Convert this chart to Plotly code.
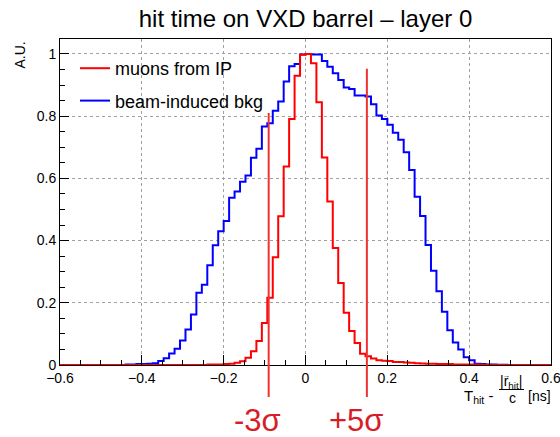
import numpy as np
import plotly.graph_objects as go

# ---------------- data ----------------
x_min, x_max, n_bins = -0.6, 0.6, 90

# beam-induced background (blue), normalised to max = 1, bins from -0.6 to 0.6
bkg_counts = [0.0] * 12 + [
    0.002, 0.002, 0.003, 0.003, 0.004, 0.006, 0.013, 0.022, 0.037, 0.052,
    0.079, 0.114, 0.162, 0.232, 0.258, 0.321, 0.385, 0.430, 0.463, 0.538,
    0.558, 0.589, 0.609, 0.666, 0.695, 0.767, 0.777, 0.817, 0.847, 0.911,
    0.960, 0.968, 0.998, 1.000, 0.998, 0.998, 0.977, 0.959, 0.938, 0.916,
    0.892, 0.887, 0.866, 0.866, 0.863, 0.838, 0.802, 0.791, 0.772, 0.747,
    0.724, 0.684, 0.627, 0.541, 0.479, 0.386, 0.303, 0.237, 0.171, 0.112,
    0.072, 0.050, 0.025, 0.015, 0.004, 0.003, 0.002, 0.002, 0.001, 0.001,
] + [0.0] * 8

# muons from IP (red)
muon_counts = [0.0] * 27 + [
    0.002, 0.002, 0.002, 0.003, 0.004, 0.007, 0.012, 0.023, 0.044, 0.077,
    0.135, 0.216, 0.346, 0.478, 0.638, 0.791, 0.930, 0.997, 1.000, 0.970,
    0.845, 0.667, 0.526, 0.376, 0.264, 0.168, 0.109, 0.071, 0.036, 0.028,
    0.021, 0.015, 0.014, 0.013, 0.010, 0.010, 0.008, 0.007, 0.006, 0.005,
    0.004, 0.004, 0.003, 0.003, 0.003, 0.002, 0.002, 0.002, 0.002, 0.002,
    0.001, 0.001,
] + [0.0] * 11

series_names = ["muons from IP", "beam-induced bkg"]
sigma_positions = [-0.09, 0.15]
sigma_labels = ["-3σ", "+5σ"]
x_tickvals = [-0.6, -0.4, -0.2, 0, 0.2, 0.4, 0.6]
y_tickvals = [0, 0.2, 0.4, 0.6, 0.8, 1]
y_ticklabels = ["0", "0.2", "0.4", "0.6", "0.8", "1"]

# ---------------- figure ----------------
W, H = 560, 437
ML, MR, MT, MB = 60, 9, 39, 72
PW, PH = W - ML - MR, H - MT - MB
Y_TOP = 1.048
BOTTOM_PX = H - MB           # pixel row of the x axis


def px_x(px):
    return (px - ML) / PW


def px_y(py):
    return (BOTTOM_PX - py) / PH


edges = np.linspace(x_min, x_max, n_bins + 1)


def steps(counts):
    c = list(counts)
    return list(edges), c + [c[-1]]


FONT = "Liberation Sans, Arial, Helvetica, sans-serif"
RED = "rgb(255,0,0)"
BLUE = "rgb(0,0,255)"

fig = go.Figure()
bx, by = steps(bkg_counts)
mx, my = steps(muon_counts)
fig.add_trace(go.Scatter(x=bx, y=by, mode="lines", line=dict(shape="hv", color=BLUE, width=2),
                         name=series_names[1], legendrank=2, legendgroup="b"))
fig.add_trace(go.Scatter(x=mx, y=my, mode="lines", line=dict(shape="hv", color=RED, width=2),
                         name=series_names[0], legendrank=1, legendgroup="a"))

tops = [0.81, 0.952]
for xv, top, lab in zip(sigma_positions, tops, sigma_labels):
    fig.add_shape(type="line", xref="x", yref="paper", x0=xv, x1=xv,
                  y0=px_y(397), y1=top / Y_TOP,
                  line=dict(color="rgb(240,50,50)", width=2))
    fig.add_annotation(xref="x", yref="paper", x=xv, xshift=-11, y=px_y(420),
                       text=lab, showarrow=False, xanchor="center", yanchor="middle",
                       font=dict(family=FONT, size=31, color="rgb(214,30,40)"))

# y-axis title
fig.add_annotation(xref="paper", yref="paper", x=px_x(20), y=px_y(40), text="A.U.",
                   textangle=-90, showarrow=False, xanchor="center", yanchor="top",
                   font=dict(family=FONT, size=14, color="black"))
# x-axis title built like ROOT's #frac
fig.add_annotation(xref="paper", yref="paper", x=px_x(462), y=px_y(396),
                   text="T<sub>hit</sub> -", showarrow=False, xanchor="left", yanchor="middle",
                   font=dict(family=FONT, size=15, color="black"))
fig.add_annotation(xref="paper", yref="paper", x=px_x(511), y=px_y(382),
                   text="|r<sub>hit</sub>|", showarrow=False, xanchor="center", yanchor="middle",
                   font=dict(family=FONT, size=14, color="black"))
fig.add_annotation(xref="paper", yref="paper", x=px_x(505.5), y=px_y(375),
                   text="→", showarrow=False, xanchor="center", yanchor="middle",
                   font=dict(family=FONT, size=8, color="black"))
fig.add_shape(type="line", xref="paper", yref="paper", x0=px_x(499), x1=px_x(524),
              y0=px_y(389.5), y1=px_y(389.5), line=dict(color="black", width=1))
fig.add_annotation(xref="paper", yref="paper", x=px_x(512), y=px_y(398),
                   text="c", showarrow=False, xanchor="center", yanchor="middle",
                   font=dict(family=FONT, size=14, color="black"))
fig.add_annotation(xref="paper", yref="paper", x=px_x(526), y=px_y(396),
                   text="[ns]", showarrow=False, xanchor="left", yanchor="middle",
                   font=dict(family=FONT, size=14, color="black"))

axis_common = dict(
    showline=True, linecolor="black", linewidth=1, mirror=True,
    ticks="inside", tickcolor="black", tickwidth=1,
    showgrid=True, gridcolor="rgb(160,160,160)", griddash="dot", gridwidth=1,
    zeroline=False, tickfont=dict(family=FONT, size=14, color="black"),
    ticklabeloverflow="allow", automargin=False,
)

fig.update_layout(
    width=W, height=H,
    margin=dict(l=ML, r=MR, t=MT, b=MB, pad=0, autoexpand=False),
    paper_bgcolor="white", plot_bgcolor="white",
    title=dict(text="hit time on VXD barrel – layer 0", x=0.5, xref="paper",
               y=1 - 19 / H, yref="container", xanchor="center", yanchor="middle",
               font=dict(family=FONT, size=24, color="black")),
    xaxis=dict(range=[x_min, x_max], tickvals=x_tickvals, ticklen=10,
               minor=dict(ticks="inside", dtick=0.05, ticklen=5, tickcolor="black", showgrid=False),
               **axis_common),
    yaxis=dict(range=[0, Y_TOP], tickvals=y_tickvals, ticktext=y_ticklabels, ticklen=9,
               minor=dict(ticks="inside", dtick=0.05, ticklen=5, tickcolor="black", showgrid=False),
               **axis_common),
    legend=dict(x=px_x(75), y=px_y(50), xanchor="left", yanchor="top",
                bgcolor="rgba(0,0,0,0)", borderwidth=0, tracegroupgap=6,
                font=dict(family=FONT, size=18, color="black")),
    showlegend=True,
    hovermode=False,
)

fig.write_html("out.html", config={"displayModeBar": False},
               post_script="document.body.style.margin='0';document.body.style.overflow='hidden';")
